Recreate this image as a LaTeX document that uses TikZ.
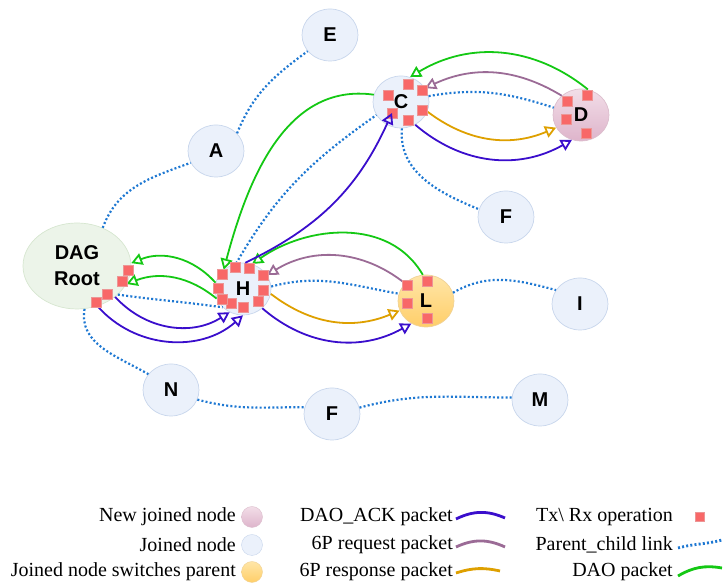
\documentclass[tikz,border=0pt]{standalone}
\usepackage{fontspec}
\setmainfont{Liberation Serif}
\newfontfamily\labelfont{Liberation Sans}
\usetikzlibrary{shapes.geometric,arrows.meta}
\pgfdeclarelayer{front}
\pgfsetlayers{main,front}
\definecolor{jfill}{RGB}{235,241,251}
\definecolor{jdraw}{RGB}{200,214,236}
\definecolor{rfill}{RGB}{236,244,233}
\definecolor{rdraw}{RGB}{214,230,208}
\definecolor{ptop}{RGB}{242,222,232}
\definecolor{pbot}{RGB}{222,180,203}
\definecolor{pdraw}{RGB}{220,190,205}
\definecolor{otop}{RGB}{255,230,168}
\definecolor{obot}{RGB}{255,206,105}
\definecolor{odraw}{RGB}{240,210,150}
\definecolor{sqred}{RGB}{248,104,104}
\definecolor{sqborder}{RGB}{236,150,150}
\definecolor{linkblue}{RGB}{30,120,210}
\definecolor{daogreen}{RGB}{20,200,20}
\definecolor{reqpurple}{RGB}{155,107,150}
\definecolor{resorange}{RGB}{222,160,0}
\definecolor{ackblue}{RGB}{58,14,204}
\tikzset{
  nd/.style={ellipse, inner sep=0pt, minimum width=56pt, minimum height=52pt,
    font=\labelfont\bfseries\fontsize{20}{26}\selectfont, line width=0.7pt},
  joined/.style={nd, draw=jdraw, fill=jfill},
  rootnd/.style={nd, draw=rdraw, fill=rfill, minimum width=108pt, minimum height=86pt, align=center},
  newnd/.style={nd, draw=pdraw, top color=ptop, bottom color=pbot},
  swnd/.style={nd, draw=odraw, top color=otop, bottom color=obot},
  sq/.style={rectangle, fill=sqred, draw=sqborder, line width=0.4pt, minimum size=10pt, inner sep=0pt},
  link/.style={draw=linkblue, line width=2.2pt, dash pattern=on 2pt off 2.2pt},
  tipo/.style={-{Triangle[open,length=11pt,width=12pt]}},
  dao/.style={draw=daogreen, line width=1.8pt, tipo},
  req/.style={draw=reqpurple, line width=1.8pt, tipo},
  res/.style={draw=resorange, line width=1.8pt, tipo},
  ack/.style={draw=ackblue, line width=1.8pt, tipo},
  legtext/.style={font=\fontsize{20}{24}\selectfont, inner sep=0pt},
}
\begin{document}
\begin{tikzpicture}[x=1pt,y=1pt]
\useasboundingbox (0,0) rectangle (724,585);
% nodes
\node[joined] (E) at (330,550) {E};
\node[joined] (A) at (216,434) {A};
\node[joined] (C) at (401,483) {C};
\node[newnd]  (D) at (581,470) {D};
\node[joined] (Fu) at (506,368) {F};
\node[rootnd] (R) at (77,319) {DAG\\Root};
\node[joined] (H) at (243,296) {H};
\node[swnd]   (L) at (426,284) {L};
\node[joined] (I) at (580,281) {I};
\node[joined] (N) at (171,195) {N};
\node[joined] (Fl) at (332,171) {F};
\node[joined] (M) at (540,185) {M};
% Tx/Rx squares (drawn on the front layer)
\begin{pgfonlayer}{front}
\node[sq] (r1) at (128,315) {};
\node[sq] (r2) at (122,304) {};
\node[sq] (r3) at (107,291) {};
\node[sq] (r4) at (96,283) {};
\node[sq] (h1) at (222,311) {};
\node[sq] (h2) at (235,318) {};
\node[sq] (h3) at (249,317) {};
\node[sq] (h4) at (263,310) {};
\node[sq] (h5) at (263,295) {};
\node[sq] (h6) at (258,284) {};
\node[sq] (h7) at (243,278) {};
\node[sq] (h8) at (231,282) {};
\node[sq] (h9) at (222,286) {};
\node[sq] (h10) at (218,297) {};
\node[sq] (c1) at (408,501) {};
\node[sq] (c2) at (422,495) {};
\node[sq] (c3) at (388,490) {};
\node[sq] (c4) at (422,475) {};
\node[sq] (c5) at (408,465) {};
\node[sq] (c6) at (392,472) {};
\node[sq] (d1) at (587,490) {};
\node[sq] (d2) at (567,484) {};
\node[sq] (d3) at (566,466) {};
\node[sq] (d4) at (586,452) {};
\node[sq] (l1) at (407,300) {};
\node[sq] (l2) at (427,304) {};
\node[sq] (l3) at (407,282) {};
\node[sq] (l4) at (427,267) {};
\end{pgfonlayer}
% parent-child links
\draw[link] (R.56) to[out=70,in=200] (A.205);
\draw[link] (A.40) to[out=68,in=216] (E.216);
\draw[link] (H.105) to[out=60,in=215] (C.208);
\draw[link] (C.12) to[out=10,in=162] (D.165);
\draw[link] (C.-88) to[out=-95,in=158] (Fu.164);
\draw[link] (R.-35) to[out=-8,in=172] (H.222);
\draw[link] (H.5) to[out=15,in=170] (L.165);
\draw[link] (L.17) to[out=30,in=165] (I.150);
\draw[link] (R.-80) to[out=-100,in=150] (N.145);
\draw[link] (N.-20) to[out=-15,in=180] (Fl.166);
\draw[link] (Fl.13) to[out=15,in=180] (M.175);
% DAO packets
\draw[dao] (C.165) to[out=172,in=75] (H.135);
\draw[dao] (L.97) to[out=120,in=35] (H.70);
\draw[dao] (D.75) to[bend right=35] (C.70);
\draw[dao] (H.167) to[bend right=35] (R.3);
\draw[dao] (H.200) to[bend right=30] (R.-20);
% 6P request
\draw[req] (L.140) to[bend right=35] (H.30);
\draw[req] (D.135) to[bend right=28] (C.30);
% 6P response
\draw[res] (H.-10) to[bend right=30] (L.200);
\draw[res] (C.-20) to[bend right=30] (D.207);
% DAO_ACK
\draw[ack] (R.-39) to[bend right=40] (H.240);
\draw[ack] (R.-63) to[bend right=45] (H.270);
\draw[ack] (H.-45) to[bend right=35] (L.237);
\draw[ack] (C.-58) to[bend right=35] (D.250);
\begin{pgfonlayer}{front}
\draw[ack] (H.85) to[bend right=20] (c6.center);
\end{pgfonlayer}
% legend
\node[legtext, anchor=east] (t1) at (236,68) {New joined node};
\node[legtext, anchor=east] (t2) at (236,40) {Joined node};
\node[legtext, anchor=east] (t3) at (236,13) {Joined node switches parent};
\node[circle, minimum size=21pt, inner sep=0pt, draw=pdraw, top color=ptop, bottom color=pbot] (k1) at (252,68) {};
\node[circle, minimum size=21pt, inner sep=0pt, draw=jdraw, fill=jfill] (k2) at (252,40) {};
\node[circle, minimum size=21pt, inner sep=0pt, draw=odraw, top color=otop, bottom color=obot] (k3) at (252,13) {};
\node[legtext, anchor=east] (t4) at (453,68) {DAO\_ACK packet};
\node[legtext, anchor=east] (t5) at (453,40) {6P request packet};
\node[legtext, anchor=east] (t6) at (453,13) {6P response packet};
\coordinate (a1) at (456,66); \coordinate (a2) at (505,67);
\coordinate (b1) at (456,38); \coordinate (b2) at (505,38);
\coordinate (e1) at (456,12); \coordinate (e2) at (500,14);
\draw[ackblue, line width=2.8pt] (a1) to[bend left=25] (a2);
\draw[reqpurple, line width=2.8pt] (b1) to[bend left=25] (b2);
\draw[resorange, line width=2.8pt] (e1) to[bend left=15] (e2);
\node[legtext, anchor=east] (t7) at (673,68) {Tx\textbackslash\ Rx operation};
\node[legtext, anchor=east] (t8) at (673,40) {Parent\_child link};
\node[legtext, anchor=east] (t9) at (673,13) {DAO packet};
\node[sq, minimum size=9pt] (k4) at (700,68) {};
\coordinate (f1) at (678,37); \coordinate (f2) at (722,45);
\coordinate (g1) at (678,9); \coordinate (g2) at (722,17);
\draw[link, line width=2.8pt] (f1) to[out=15,in=195] (f2);
\draw[daogreen, line width=2.8pt] (g1) to[bend left=20] (g2);
\end{tikzpicture}
\end{document}
